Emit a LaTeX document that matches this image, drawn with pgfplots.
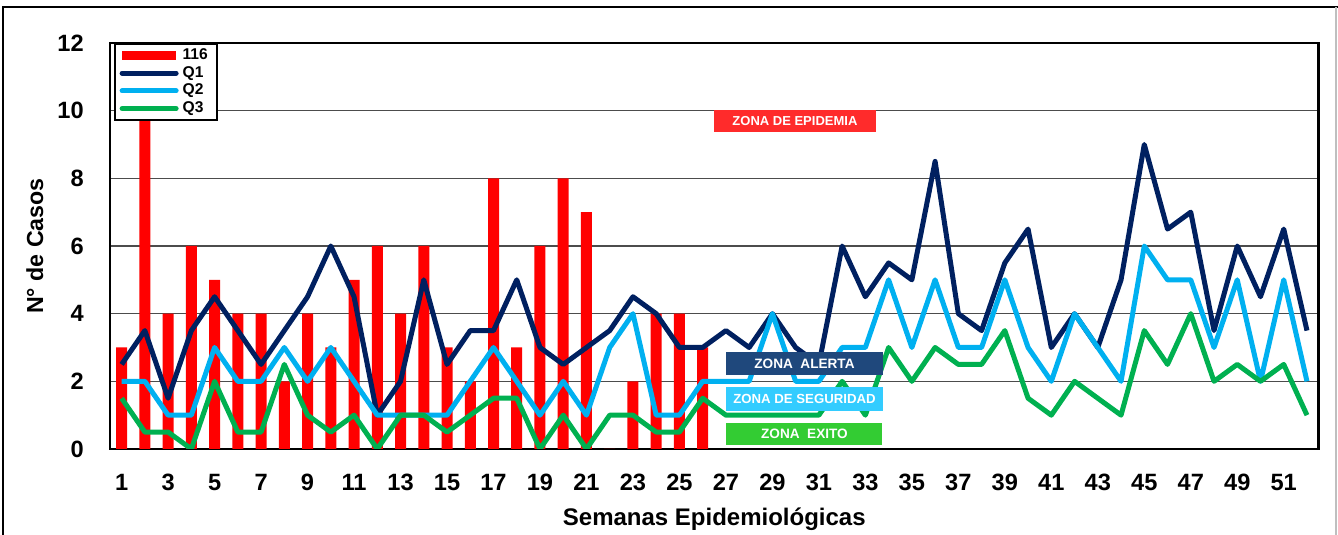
\documentclass[border=0pt]{standalone}
\usepackage{fontspec}
\setmainfont{Liberation Sans}
\usepackage{pgfplots}
\usepackage{pgfplotstable}
\pgfplotsset{compat=1.18}

\definecolor{barred}{HTML}{FF0000}
\definecolor{qone}{HTML}{002060}
\definecolor{qtwo}{HTML}{00B0F0}
\definecolor{qthree}{HTML}{00B050}
\definecolor{zepi}{HTML}{FF2B2B}
\definecolor{zale}{HTML}{1F487C}
\definecolor{zseg}{HTML}{33CCFF}
\definecolor{zexi}{HTML}{33CC33}

% casos semanales (serie 116)
\pgfplotstableread{
semana casos
1 3
2 10
3 4
4 6
5 5
6 4
7 4
8 2
9 4
10 3
11 5
12 6
13 4
14 6
15 3
16 2
17 8
18 3
19 6
20 8
21 7
22 0
23 2
24 4
25 4
26 3
}\casos

% canal endemico: cuartiles
\pgfplotstableread{
semana q1 q2 q3
1 2.5 2 1.5
2 3.5 2 0.5
3 1.5 1 0.5
4 3.5 1 0
5 4.5 3 2
6 3.5 2 0.5
7 2.5 2 0.5
8 3.5 3 2.5
9 4.5 2 1
10 6 3 0.5
11 4.5 2 1
12 1 1 0
13 2 1 1
14 5 1 1
15 2.5 1 0.5
16 3.5 2 1
17 3.5 3 1.5
18 5 2 1.5
19 3 1 0
20 2.5 2 1
21 3 1 0
22 3.5 3 1
23 4.5 4 1
24 4 1 0.5
25 3 1 0.5
26 3 2 1.5
27 3.5 2 1
28 3 2 1
29 4 4 1
30 3 2 1
31 2.5 2 1
32 6 3 2
33 4.5 3 1
34 5.5 5 3
35 5 3 2
36 8.5 5 3
37 4 3 2.5
38 3.5 3 2.5
39 5.5 5 3.5
40 6.5 3 1.5
41 3 2 1
42 4 4 2
43 3 3 1.5
44 5 2 1
45 9 6 3.5
46 6.5 5 2.5
47 7 5 4
48 3.5 3 2
49 6 5 2.5
50 4.5 2 2
51 6.5 5 2.5
52 3.5 2 1
}\canal

\begin{document}
\begin{tikzpicture}
\begin{axis}[
  name=ax, at={(0,0)}, anchor=south west,
  scale only axis, width=604.3pt, height=203pt,
  xmin=0.5, xmax=52.5, ymin=0, ymax=12,
  xtick={1,3,...,51}, ytick={0,2,...,12},
  major tick length=0pt,
  ymajorgrids, grid style={line width=0.8pt, black!70},
  axis line style={line width=1.4pt},
  /pgf/number format/assume math mode=true,
  ticklabel style={font=\bfseries\fontsize{11.8}{13}\selectfont},
  yticklabel style={xshift=-9.6pt},
  xticklabel style={yshift=-9pt},
  xlabel={Semanas Epidemiológicas},
  xlabel style={at={(axis description cs:0.5,-0.1872)}, anchor=base,
    font=\bfseries\fontsize{12}{14}\selectfont},
  ylabel={N° de Casos},
  ylabel style={at={(axis description cs:-0.0554,0.5)}, anchor=base,
    font=\bfseries\fontsize{11.6}{13}\selectfont},
  legend style={at={(axis description cs:0.003,1)}, anchor=north west,
    draw=black, line width=1pt, fill=white,
    font=\bfseries\fontsize{7.8}{8}\selectfont,
    inner xsep=2.5pt, inner ysep=0.3pt, row sep=-2.1pt,
    cells={anchor=west}},
  legend cell align=left,
]
  \addplot[ybar, bar width=5.5pt, fill=barred, draw=none,
    legend image code/.code={\fill[barred] (0pt,-2.3pt) rectangle (27pt,2.3pt);}]
    table[x=semana, y=casos] {\casos};
  \addlegendentry{116}
  \addplot[qone, line width=2.5pt, line join=round, mark=none,
    legend image code/.code={\draw[qone, line width=2.5pt, line cap=round] (0pt,0pt) -- (27pt,0pt);}]
    table[x=semana, y=q1] {\canal};
  \addlegendentry{Q1}
  \addplot[qtwo, line width=2.5pt, line join=round, mark=none,
    legend image code/.code={\draw[qtwo, line width=2.5pt, line cap=round] (0pt,0pt) -- (27pt,0pt);}]
    table[x=semana, y=q2] {\canal};
  \addlegendentry{Q2}
  \addplot[qthree, line width=2.5pt, line join=round, mark=none,
    legend image code/.code={\draw[qthree, line width=2.5pt, line cap=round] (0pt,0pt) -- (27pt,0pt);}]
    table[x=semana, y=q3] {\canal};
  \addlegendentry{Q3}

  % rotulos de zonas
  \node[fill=zepi, text=white, font=\bfseries\fontsize{6.5}{7}\selectfont,
    minimum width=81pt, minimum height=11pt, inner sep=0pt]
    at (axis cs:29.97,9.70) {ZONA DE EPIDEMIA};
  \node[fill=zale, text=white, font=\bfseries\fontsize{6.8}{7}\selectfont,
    minimum width=78.5pt, minimum height=11.5pt, inner sep=0pt]
    at (axis cs:30.38,2.53) {ZONA\ \ ALERTA};
  \node[fill=zseg, text=white, font=\bfseries\fontsize{6.6}{7}\selectfont,
    minimum width=78.5pt, minimum height=12pt, inner sep=0pt]
    at (axis cs:30.38,1.48) {ZONA DE SEGURIDAD};
  \node[fill=zexi, text=white, font=\bfseries\fontsize{6.8}{7}\selectfont,
    minimum width=78pt, minimum height=11pt, inner sep=0pt]
    at (axis cs:30.38,0.44) {ZONA\ \ EXITO};
\end{axis}
% marco del area del grafico
\draw[black, line width=0.8pt] (-53.5pt,-44pt) -- (-53.5pt,221pt) -- (614pt,221pt);
\draw[gray!50, line width=0.8pt] (613pt,221pt) -- (613pt,-44pt);
\pgfresetboundingbox
\path[use as bounding box] (-55pt,-43pt) rectangle (614pt,224.5pt);
\end{tikzpicture}
\end{document}
